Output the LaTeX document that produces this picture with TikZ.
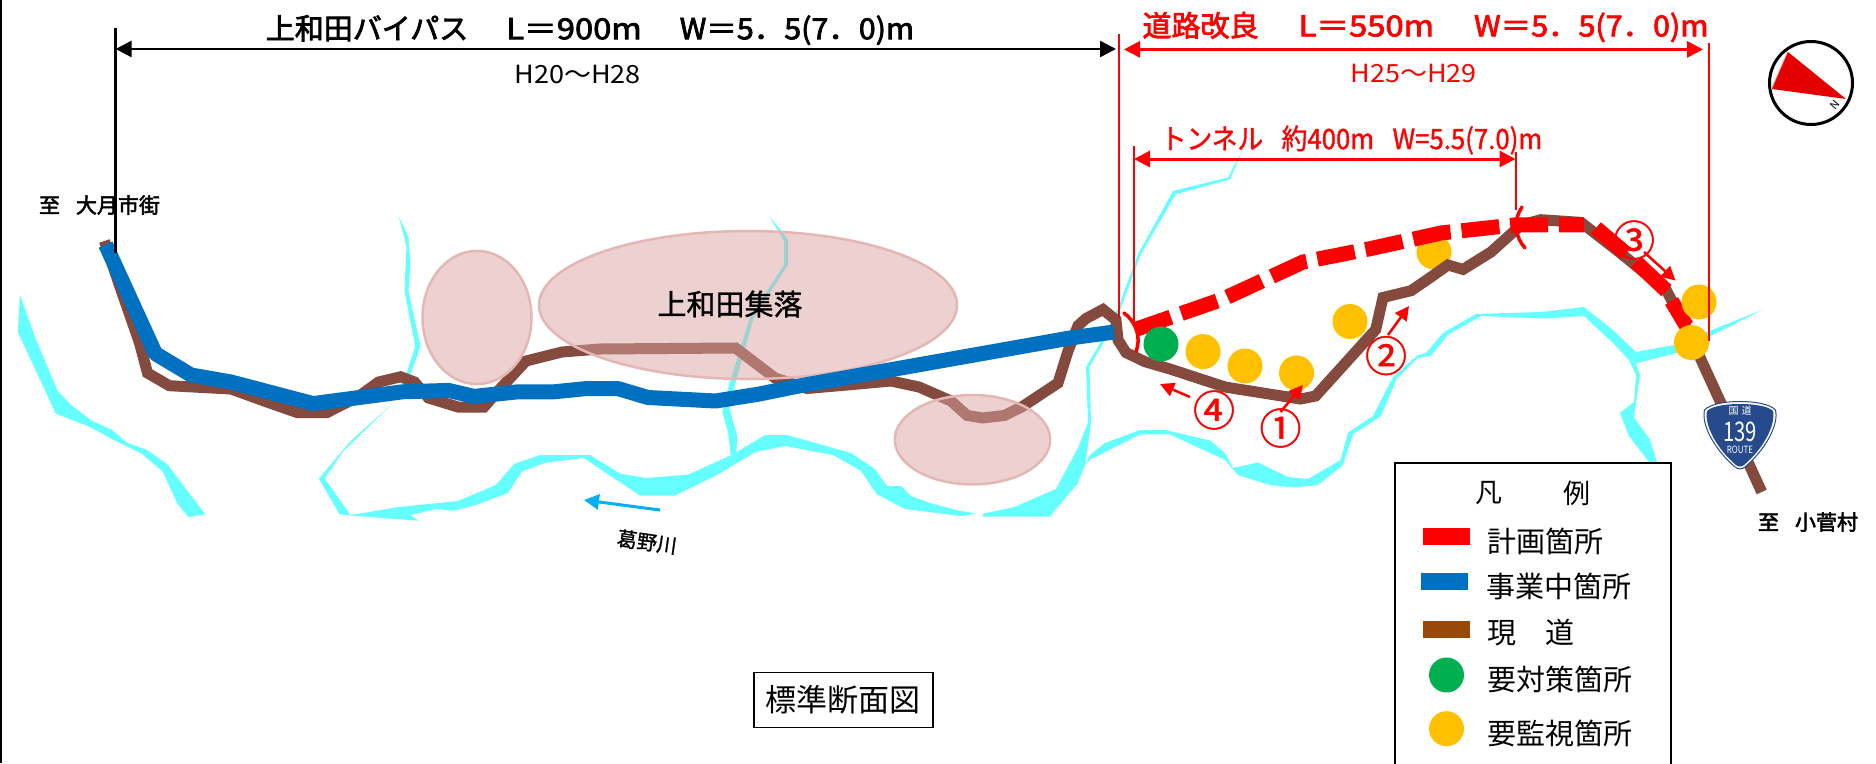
\documentclass[tikz,border=0pt]{standalone}
\usepackage{fontspec}
\usetikzlibrary{arrows.meta}
\setmainfont{Noto Sans CJK JP}
\newfontfamily\cjk{Noto Sans CJK JP}
\newfontfamily\cjkb[FakeBold=2.5]{Noto Sans CJK JP}
\newfontfamily\cjkm[FakeBold=1.2]{Noto Sans CJK JP}
\definecolor{rivercol}{HTML}{66FFFF}
\definecolor{roadcol}{HTML}{844A3E}
\definecolor{bluecol}{HTML}{0070C0}
\definecolor{redcol}{HTML}{FF0000}
\definecolor{pinkcol}{HTML}{DBA4A3}
\definecolor{pinkedge}{HTML}{E4B6B4}
\definecolor{yellowcol}{HTML}{FFC000}
\definecolor{greencol}{HTML}{00B050}
\definecolor{legbrown}{HTML}{984807}
\definecolor{shieldcol}{HTML}{264A8C}
\definecolor{flowblue}{HTML}{00B0F0}
\tikzset{
  river/.style={fill=rivercol,draw=none},
  road/.style={draw=roadcol,line width=11pt,line join=miter},
  busy/.style={draw=bluecol,line width=15pt,line join=round},
  plan/.style={draw=redcol,line width=15pt},
  village/.style={fill=pinkcol,fill opacity=0.5,draw=pinkedge,line width=2.5pt},
  blackdim/.style={draw=black,line width=2.5pt,{Triangle[length=16pt,width=16pt]}-{Triangle[length=16pt,width=16pt]}},
  reddim/.style={draw=redcol,line width=3pt,{Triangle[length=16pt,width=16pt]}-{Triangle[length=16pt,width=16pt]}},
  redtick/.style={draw=redcol,line width=2pt},
  portal/.style={draw=redcol,line width=3.5pt,line cap=round},
  flow/.style={draw=redcol,line width=2.5pt,-{Triangle[length=14pt,width=14pt]}},
  watch/.style={fill=yellowcol,draw=none},
  urgent/.style={fill=greencol,draw=none},
  label/.style={inner sep=0pt,outer sep=0pt,font=\cjk},
  legtext/.style={inner sep=0pt,outer sep=0pt,anchor=west,font=\cjk\fontsize{29}{29}\selectfont},
  swatch/.style={draw=none,minimum width=47pt,minimum height=17pt,inner sep=0pt},
  circnum/.style={inner sep=0pt,text=redcol,font=\cjkm\fontsize{42}{42}\selectfont},
}
\begin{document}
\begin{tikzpicture}[x=1pt,y=-1pt]
\useasboundingbox (0,0) rectangle (1876,763);
\fill[white] (0,0) rectangle (1876,763);
\fill[black] (0,0) rectangle (2,763);
% rivers
\fill[river] (19.9,294.6)--(35.9,339.3)--(57.8,391)--(71.7,405.4)--(91.7,420.7)--(111.6,429.6)--(127.5,442.9)--(147.5,450)--(167.4,464.3)--(205.3,514.3)--(188.5,517.1)--(177.4,503.6)--(162.6,471.4)--(141.5,453.6)--(115.6,441)--(89.7,426.8)--(55.8,413.6)--(17.9,332.1)--cycle;
\fill[river] (398.6,216)--(408.5,237.5)--(410.5,264)--(408.5,291)--(420.5,346.4)--(406.5,385.7)--(402.5,385.7)--(415.3,346.4)--(404.5,291)--(406.5,246.4)--cycle;
\fill[river] (392.6,403.6)--(350.7,441)--(318.9,478.6)--(339.6,514.3)--(350.7,515.4)--(324.8,478.6)--(342.8,451.8)--cycle;
\fill[river] (349,515.4)--(398.6,507)--(458,501)--(496,485)--(514,464)--(540,455)--(590,455)--(620,473.6)--(646,478)--(688,474.7)--(731.5,455)--(765.4,435)--(787,435)--(851,453)--(875,469)--(887,486)--(901,486)--(911,496)--(931,503.4)--(959,510.6)--(976.6,513.5)--(960.7,516)--(905,509)--(877,494.4)--(861,471)--(833,455)--(785,446)--(755.4,452)--(717.6,474.7)--(675,495.5)--(640,495.5)--(600,469)--(584,458)--(546,462.5)--(522,471.4)--(508,493)--(476,505)--(454,510.7)--(436,509)--(410.5,515)--(418.5,520.7)--cycle;
\fill[river] (769.4,216.2)--(788.1,239.5)--(788.1,264.6)--(753.4,318.5)--(735.5,383.1)--(729.5,408.3)--(737.5,437)--(736.3,453.1)--(730.7,455)--(728.3,433.4)--(722.4,411.8)--(729.5,383.1)--(749.5,318.5)--(784.1,264.6)--(784.1,241.3)--cycle;
\fill[river] (1243,149)--(1228,177.5)--(1173,191)--(1138,254)--(1118,308)--(1102,340)--(1086,367)--(1088,422.6)--(1078,448)--(1056,489)--(1014.5,507)--(983.4,513.5)--(982.6,516.7)--(1049.6,516.7)--(1077.5,483.7)--(1085.5,464)--(1091,422.6)--(1089.4,367)--(1105,340)--(1121,308)--(1141,254)--(1176,194)--(1230,179.5)--cycle;
\fill[river] (1085.5,464)--(1090,455)--(1105,443)--(1140,430)--(1165,430)--(1210,440.5)--(1225,453)--(1233,468)--(1258,462.5)--(1288,477)--(1308,479)--(1340.6,460)--(1348,432.7)--(1373,416)--(1393,377)--(1418,355)--(1426,353)--(1443,333)--(1476,314)--(1541,312)--(1584,307)--(1614,331)--(1636,352)--(1674,345)--(1762,310)--(1706.5,338)--(1676.5,353)--(1636,363.4)--(1640,375)--(1634,417.5)--(1650,439.5)--(1657,462)--(1649,462)--(1629,436)--(1620,413)--(1634,402)--(1636,375)--(1629,360)--(1615,345)--(1584,316)--(1544,318.5)--(1481,316)--(1448,334.7)--(1431,355.6)--(1418,358)--(1397,378.6)--(1381,416)--(1353,434.4)--(1343,465)--(1318,485)--(1293,487.5)--(1270,485)--(1238,475)--(1225,460)--(1170,434.4)--(1140,434.4)--(1090,459.8)--cycle;
% yellow under the road
\fill[watch] (1434,252) circle (17.5pt);
% existing road
\draw[road] (104.4,241)--(119.6,285.7)--(139.5,342.9)--(147.5,373)--(169.4,385.7)--(231,389)--(267,402)--(297,412.5)--(327,412.5)--(358.7,396.4)--(378.6,382)--(400.6,376.8)--(414.5,382)--(428.5,398)--(458,407)--(484,407)--(498,391)--(526,361)--(562,352)--(600,349)--(735.5,348)--(743.5,354)--(775,378)--(807,388.5)--(847,385)--(891,381)--(919,387)--(951,401)--(967,415.4)--(982.6,418)--(1004.5,415.4)--(1022.5,406.5)--(1058,383)--(1068,351)--(1078,325.7)--(1086,318.5)--(1103,309.5)--(1116,320)--(1118,340)--(1126,352.6)--(1145,361.7)--(1170,369)--(1225,387)--(1300.5,399)--(1315.6,396)--(1375.7,329.6)--(1383,297.5)--(1411,290.7)--(1431,277)--(1448,265)--(1463,269.4)--(1491,252)--(1521,225)--(1541,219.7)--(1581,222.4)--(1621,253.5)--(1666.5,290.7)--(1686.5,328)--(1761.7,492);
% villages
\draw[village] (477,317.5) ellipse (54.5pt and 66.6pt);
\draw[village] (748,305) ellipse (209pt and 74pt);
\draw[village] (972.5,439.7) ellipse (77.7pt and 44.7pt);
% road under construction
\draw[busy] (105.6,244.6)--(155.4,353.6)--(191,375)--(231,382)--(313,403.6)--(402.5,391.8)--(448.4,390.4)--(474,396.4)--(518,391.8)--(554,391.8)--(586,388.6)--(618,388.6)--(648,397.5)--(715.6,401)--(759.4,394)--(795,386.7)--(943,360.5)--(1070,338)--(1114,332);
% planned
\draw[plan,dash pattern=on 38pt off 11pt] (1135,329.6)--(1223,299)--(1303,262)--(1371,248.5)--(1441,233)--(1516,224.8)--(1584,224.8);
\draw[plan] (1596,228)--(1626,253.5);
\draw[plan] (1636,262)--(1666.5,290.7);
\draw[plan] (1671.5,301)--(1686.5,326);
\draw[portal] (1124,313) .. controls (1134,320) and (1142,335) .. (1136,351.6);
\draw[portal] (1522,207) .. controls (1512,222) and (1516,238) .. (1525,248);
% sites
\fill[urgent] (1161,344) circle (17.5pt);
\fill[watch] (1203,351.6) circle (17.5pt);
\fill[watch] (1245,366) circle (17.5pt);
\fill[watch] (1296.5,373) circle (17.5pt);
\fill[watch] (1350,321.5) circle (17.5pt);
\fill[watch] (1699,302) circle (17.5pt);
\fill[watch] (1691.5,342.5) circle (17.5pt);
% dimension lines
\coordinate (bl) at (115.6,49);
\coordinate (br) at (1116,49);
\coordinate (rl) at (1124,49.4);
\coordinate (rr) at (1703,49.4);
\coordinate (tl) at (1134,159);
\coordinate (tr) at (1515.5,159);
\draw[draw=black,line width=3pt] (115.6,28)--(115.6,253);
\draw[blackdim] (bl)--(br);
\draw[redtick] (1119,34)--(1119,318);
\draw[redtick] (1709,43)--(1709,341);
\draw[reddim] (rl)--(rr);
\draw[redtick] (1134,146)--(1134,324);
\draw[redtick] (1515.5,152)--(1515.5,210);
\draw[reddim] (tl)--(tr);
% dimension labels
\node[label,font=\cjkb\fontsize{29}{29}\selectfont] (t1) at (590,30) {上和田バイパス\hspace{38pt}\scalebox{1.13}[1]{L＝900m}\hspace{38pt}\scalebox{1.05}[1]{W＝5．5(7．0)m}};
\node[label,font=\cjk\fontsize{25}{25}\selectfont] (t2) at (577.5,74) {\scalebox{1.08}[1]{H20～H28}};
\node[label,text=redcol,font=\cjkb\fontsize{29}{29}\selectfont] (t3) at (1425.5,27) {道路改良\hspace{40pt}\scalebox{1.13}[1]{L＝550m}\hspace{40pt}\scalebox{1.05}[1]{W＝5．5(7．0)m}};
\node[label,text=redcol,font=\cjk\fontsize{25}{25}\selectfont] (t4) at (1413.5,73) {\scalebox{1.08}[1]{H25～H29}};
\node[label,text=redcol,font=\cjkm\fontsize{28}{28}\selectfont] (t5) at (1351.5,140) {\scalebox{0.92}[1]{トンネル\hspace{20pt}約400m\hspace{20pt}W=5.5(7.0)m}};
\node[label,font=\cjkb\fontsize{21}{21}\selectfont] (t6) at (99.5,205) {至\hspace{16pt}大月市街};
\node[label,font=\cjkb\fontsize{21}{21}\selectfont] (t7) at (1808,522) {至\hspace{16pt}小菅村};
\node[label,font=\cjkm\fontsize{29}{29}\selectfont] (t8) at (730,304) {上和田集落};
\node[label,rotate=-8,font=\cjkm\fontsize{20}{20}\selectfont] (t9) at (647,542) {葛野川};
\coordinate (ra) at (660,510);
\coordinate (rb) at (584,500);
\draw[draw=flowblue,line width=3pt,-{Triangle[length=15pt,width=15pt]}] (ra)--(rb);
% numbered arrows
\node[circnum] (n1) at (1280.5,428) {①};
\node[circnum] (n2) at (1386,355.6) {②};
\node[circnum] (n3) at (1634,240) {③};
\node[circnum] (n4) at (1214,410) {④};
\coordinate (a1) at (1303,385);
\coordinate (a2) at (1409,306);
\coordinate (a3) at (1675.5,280.6);
\coordinate (a4) at (1160,384);
\draw[flow] (1280.5,412)--(a1);
\draw[flow] (1388,335)--(a2);
\draw[flow] (1644,252)--(a3);
\draw[flow] (1190,397)--(a4);
% compass
\draw[black,line width=3pt,fill=white] (1811,83) circle (41.5pt);
\draw[gray!40,line width=2pt,fill=none] (1788,52) .. controls (1782,65) and (1776,78) .. (1772,89);
\fill[red!90!black] (1788,52)--(1846,99)--(1772,89)--cycle;
\node[label,rotate=50,font=\cjk\fontsize{11}{11}\selectfont] (cn) at (1835,105) {N};
% route sign
\draw[draw=shieldcol,line width=1pt,fill=white] (1740,401.5) .. controls (1755,401.5) and (1770,404) .. (1775.5,410) .. controls (1779,425) and (1765,450) .. (1745,467) .. controls (1742,469.5) and (1738,469.5) .. (1735,467) .. controls (1715,450) and (1701,425) .. (1704.5,410) .. controls (1710,404) and (1725,401.5) .. (1740,401.5) -- cycle;
\fill[shieldcol] (1740,404) .. controls (1754,404) and (1768,406) .. (1773,411) .. controls (1776,425) and (1763,449) .. (1744,465) .. controls (1742,467) and (1738,467) .. (1736,465) .. controls (1717,449) and (1704,425) .. (1707,411) .. controls (1712,406) and (1726,404) .. (1740,404) -- cycle;
\node[label,text=white,font=\cjk\fontsize{10}{10}\selectfont] (s1) at (1740,411) {国\hspace{3pt}道};
\node[label,text=white,font=\cjk\fontsize{27}{27}\selectfont] (s2) at (1740,432) {\scalebox{0.75}[1]{139}};
\node[label,text=white,font=\cjk\fontsize{10}{10}\selectfont] (s3) at (1740,450) {\scalebox{0.8}[1]{ROUTE}};
% standard section box
\node[draw=black,line width=1.5pt,minimum width=179pt,minimum height=55pt,inner sep=0pt,font=\cjk\fontsize{31}{31}\selectfont] (box) at (843.3,700) {標準断面図};
% legend
\draw[black,line width=2pt] (1395,765)--(1395,463)--(1671,463)--(1671,765);
\node[label,font=\cjk\fontsize{27}{27}\selectfont] (l0a) at (1489,493) {凡};
\node[label,font=\cjk\fontsize{27}{27}\selectfont] (l0b) at (1577,493) {例};
\node[swatch,fill=redcol] (lr) at (1446.5,536.5) {};
\node[swatch,fill=bluecol] (lb) at (1444.5,581.5) {};
\node[swatch,fill=legbrown] (lm) at (1446.5,629.5) {};
\fill[urgent] (1446.5,675) circle (17.5pt);
\fill[watch] (1446.5,728.7) circle (17.5pt);
\node[legtext] (l1) at (1487,541.7) {計画箇所};
\node[legtext] (l2) at (1486,586.7) {事業中箇所};
\node[legtext] (l3) at (1487,633) {現\hspace{29pt}道};
\node[legtext] (l4) at (1487,679) {要対策箇所};
\node[legtext] (l5) at (1487,733) {要監視箇所};
\end{tikzpicture}
\end{document}
